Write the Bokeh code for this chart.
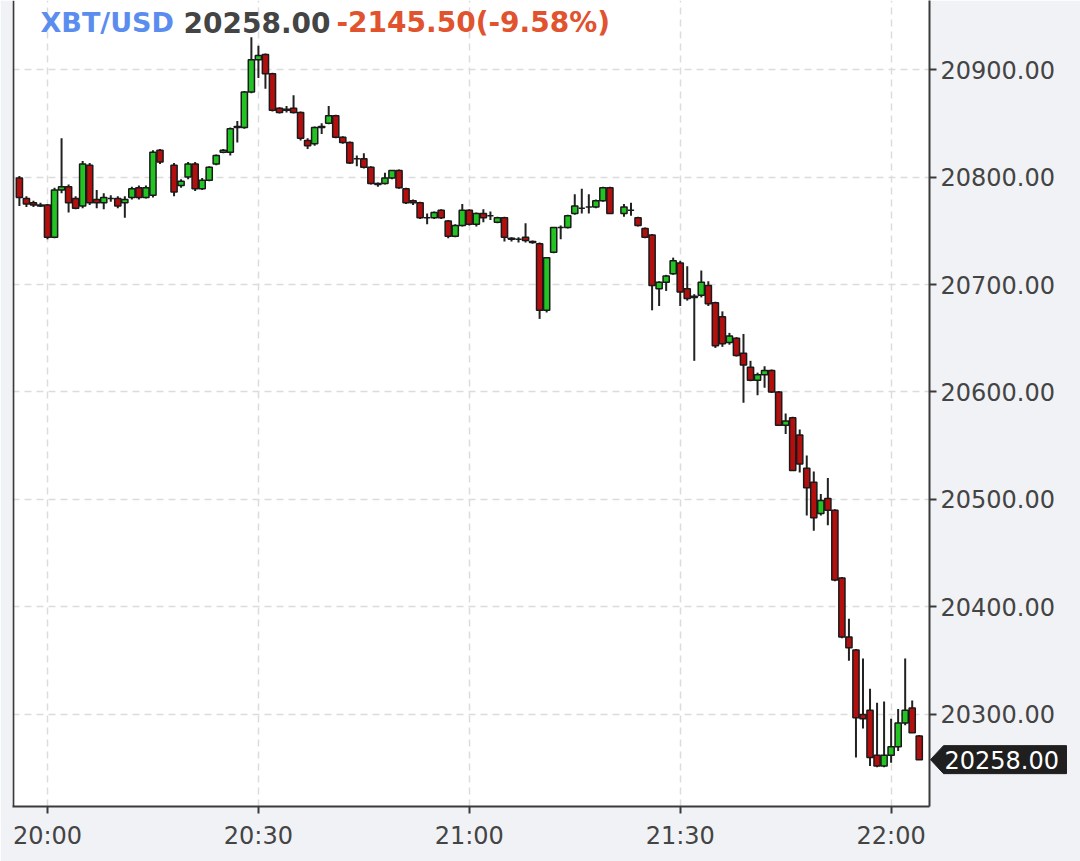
from bokeh.plotting import figure
from bokeh.models import Range1d, FixedTicker, NumeralTickFormatter, Label, Span, ColumnDataSource, GridBox
from bokeh.core.properties import value
from bokeh.embed import file_html
from bokeh.resources import INLINE

symbol = "XBT/USD"
change = -2145.50
change_pct = -9.58

minutes = [-4, -3, -2, -1, 0, 1, 2, 3, 4, 5, 6, 7, 8, 9, 10, 11, 12, 13, 14, 15, 16,
           18, 19, 20, 21, 22, 23, 24, 25, 26, 27, 28, 29, 30,
           31, 32, 33, 34, 35, 36, 37, 38, 39, 40, 41, 42, 43, 44, 45, 46, 47, 48, 49, 50,
           51, 52, 53, 54, 55, 56, 57, 58, 59, 60,
           61, 62, 63, 64, 65, 66, 67, 68, 69, 70, 71, 72, 73, 74, 75, 76, 77, 78, 79, 80,
           82, 83, 84, 85, 86, 87, 88, 89, 90,
           91, 92, 93, 94, 95, 96, 97, 98, 99, 100, 101, 102, 103, 104, 105, 106, 107, 108, 109, 110,
           111, 112, 113, 114, 115, 116, 117, 118, 119, 120, 121, 122, 123, 124]
opens = [20799, 20780, 20776, 20774, 20774, 20744, 20788, 20791, 20780, 20773, 20811, 20779, 20776, 20780, 20780, 20776, 20781, 20790, 20781, 20783, 20825,
         20811, 20792, 20800, 20812, 20789, 20797, 20812, 20823, 20823, 20846, 20846, 20879, 20909,
         20914, 20896, 20864, 20862, 20864, 20860, 20834, 20831, 20846, 20850, 20857, 20837, 20832, 20817, 20817, 20809, 20794, 20794, 20799, 20806,
         20789, 20778, 20776, 20762, 20762, 20769, 20759, 20745, 20755, 20769,
         20756, 20766, 20764, 20758, 20762, 20743, 20742, 20744, 20740, 20738, 20676, 20730, 20753, 20753, 20766, 20771, 20772, 20772, 20778, 20790,
         20766, 20769, 20762, 20752, 20746, 20696, 20702, 20710, 20720,
         20696, 20689, 20690, 20699, 20683, 20670, 20646, 20650, 20636, 20623, 20611, 20616, 20620, 20600, 20569, 20576, 20560, 20529, 20516, 20487,
         20501, 20490, 20427, 20372, 20360, 20300, 20304, 20262, 20252, 20262, 20270, 20292, 20306, 20280]
highs = [20801, 20782, 20778, 20776, 20775, 20790, 20836, 20793, 20782, 20815, 20813, 20788, 20785, 20783, 20782, 20782, 20791, 20792, 20792, 20825, 20826,
         20813, 20798, 20814, 20814, 20799, 20810, 20821, 20826, 20846, 20852, 20880, 20930, 20922,
         20915, 20897, 20865, 20866, 20876, 20861, 20836, 20847, 20850, 20866, 20858, 20838, 20833, 20820, 20822, 20810, 20795, 20804, 20806, 20807,
         20790, 20779, 20777, 20766, 20768, 20770, 20760, 20756, 20775, 20770,
         20767, 20770, 20768, 20763, 20763, 20744, 20744, 20757, 20741, 20739, 20725, 20753, 20755, 20765, 20784, 20789, 20784, 20779, 20791, 20791,
         20775, 20776, 20763, 20753, 20747, 20703, 20709, 20725, 20722,
         20717, 20691, 20713, 20703, 20684, 20675, 20655, 20651, 20654, 20629, 20618, 20624, 20621, 20601, 20580, 20577, 20565, 20541, 20526, 20505,
         20520, 20491, 20428, 20389, 20361, 20352, 20324, 20311, 20312, 20296, 20305, 20352, 20313, 20281]
lows = [20773, 20772, 20772, 20772, 20742, 20743, 20785, 20767, 20770, 20771, 20774, 20771, 20770, 20777, 20771, 20762, 20779, 20779, 20780, 20781, 20812,
        20782, 20790, 20798, 20787, 20788, 20796, 20811, 20822, 20820, 20832, 20845, 20878, 20892,
        20882, 20861, 20859, 20860, 20859, 20834, 20826, 20829, 20840, 20849, 20836, 20831, 20812, 20810, 20808, 20793, 20791, 20793, 20798, 20789,
        20775, 20774, 20761, 20756, 20761, 20761, 20743, 20744, 20754, 20755,
        20754, 20758, 20760, 20757, 20740, 20740, 20739, 20739, 20738, 20668, 20674, 20729, 20742, 20752, 20765, 20766, 20766, 20771, 20777, 20766,
        20763, 20764, 20754, 20743, 20676, 20680, 20694, 20709, 20680,
        20685, 20629, 20688, 20680, 20641, 20642, 20644, 20633, 20590, 20610, 20597, 20604, 20599, 20569, 20561, 20527, 20525, 20485, 20471, 20485,
        20476, 20424, 20371, 20350, 20260, 20287, 20252, 20251, 20251, 20255, 20266, 20290, 20283, 20258]
closes = [20781, 20775, 20774, 20773, 20744, 20788, 20791, 20776, 20771, 20812, 20776, 20776, 20781, 20780, 20773, 20779, 20789, 20781, 20790, 20823, 20814,
          20786, 20796, 20812, 20789, 20797, 20809, 20820, 20825, 20845, 20847, 20879, 20909, 20913,
          20896, 20862, 20860, 20863, 20860, 20836, 20829, 20846, 20847, 20857, 20837, 20832, 20813, 20817, 20809, 20794, 20793, 20799, 20806, 20790,
          20776, 20776, 20762, 20762, 20767, 20762, 20745, 20755, 20769, 20756,
          20766, 20762, 20764, 20762, 20744, 20742, 20742, 20741, 20739, 20676, 20725, 20753, 20753, 20764, 20773, 20771, 20772, 20778, 20790, 20766,
          20772, 20769, 20755, 20744, 20699, 20702, 20708, 20722, 20693,
          20687, 20688, 20702, 20682, 20643, 20645, 20652, 20634, 20625, 20611, 20616, 20620, 20600, 20569, 20573, 20527, 20533, 20511, 20483, 20499,
          20490, 20425, 20372, 20362, 20297, 20296, 20260, 20252, 20262, 20270, 20292, 20304, 20283, 20258]

x_tick_values = [0, 30, 60, 90, 120]
x_tick_labels = ["20:00", "20:30", "21:00", "21:30", "22:00"]
y_tick_values = [20300, 20400, 20500, 20600, 20700, 20800, 20900]

FONT = "DejaVu Sans"
UP = "#22c322"
DOWN = "#b30f0f"
EDGE = "#1a1a1a"

W, H = 1080, 861
FL, FR, FT, FB = 12, 929, 0, 806          # frame box in pixels
X0, X1 = -4.98, 125.46
Y0, Y1 = 20214.4, 20964.2

p = figure(width=W, height=H, output_backend="svg", toolbar_location=None,
           x_range=Range1d(X0, X1), y_range=Range1d(Y0, Y1),
           y_axis_location="right", x_axis_location="below",
           min_border_left=FL, min_border_right=W - FR, min_border_top=FT, min_border_bottom=H - FB)
p.background_fill_color = "white"
p.border_fill_color = "#f1f2f5"
p.outline_line_color = None
p.frame_align = False

# grid
p.xgrid.ticker = FixedTicker(ticks=x_tick_values)
p.ygrid.ticker = FixedTicker(ticks=y_tick_values)
for g in (p.xgrid, p.ygrid):
    g.grid_line_color = "#dcdcdc"
    g.grid_line_dash = "7 5"
    g.grid_line_width = 1.5

# axes
xa = p.xaxis[0]
xa.ticker = FixedTicker(ticks=x_tick_values)
xa.major_label_overrides = {v: s for v, s in zip(x_tick_values, x_tick_labels)}
ya = p.yaxis[0]
ya.ticker = FixedTicker(ticks=y_tick_values)
ya.formatter = NumeralTickFormatter(format="0.00")
for ax in (xa, ya):
    ax.axis_line_color = "#3a3a3a"
    ax.axis_line_width = 2
    ax.major_tick_line_color = "#3a3a3a"
    ax.major_tick_line_width = 2
    ax.major_tick_out = 7
    ax.major_tick_in = 0
    ax.minor_tick_line_color = None
    ax.major_label_text_font = FONT
    ax.major_label_text_font_size = "24px"
    ax.major_label_text_color = "#444444"
xa.major_label_standoff = 8
ya.major_label_standoff = 4

# left frame line
p.add_layout(Span(location=X0 + 0.12, dimension="height",
                  line_color="#3a3a3a", line_width=2))

# candles
colors = [UP if c > o else DOWN for o, c in zip(opens, closes)]
src = ColumnDataSource(dict(
    t=minutes, o=opens, h=highs, l=lows, c=closes,
    top=[max(o, c) for o, c in zip(opens, closes)],
    bot=[min(o, c) for o, c in zip(opens, closes)],
    color=colors))
p.segment(x0="t", y0="h", x1="t", y1="l", source=src, line_color="#222222", line_width=2)
p.vbar(x="t", top="top", bottom="bot", width=0.88, source=src,
       fill_color="color", line_color=EDGE, line_width=1.5)

# title labels
last = closes[-1]
TY = 784
p.add_layout(Label(x=28, y=TY, x_units="screen", y_units="screen", text=symbol,
                   text_font=FONT, text_font_style="bold", text_font_size="27px",
                   text_color="#5b8def", text_baseline="middle"))
p.add_layout(Label(x=171, y=TY, x_units="screen", y_units="screen", text=f"{last:.2f}",
                   text_font=FONT, text_font_style="bold", text_font_size="28px",
                   text_color="#444444", text_baseline="middle"))
p.add_layout(Label(x=324, y=TY, x_units="screen", y_units="screen",
                   text=f"{change:.2f}({change_pct:.2f}%)",
                   text_font=FONT, text_font_style="bold", text_font_size="28px",
                   text_color="#e0532e", text_baseline="middle"))

# transparent overlay figure (full-canvas frame) for the last-price tag on the right axis
k = (Y1 - Y0) / (FB - FT)                  # price units per pixel
tag = figure(width=W, height=H, output_backend="svg", toolbar_location=None,
             x_range=Range1d(0, W), y_range=Range1d(Y0 - (H - FB) * k, Y1 + FT * k),
             x_axis_type=None, y_axis_type=None,
             min_border_left=0, min_border_right=0, min_border_top=0, min_border_bottom=0)
tag.frame_align = False
tag.grid.visible = False
tag.background_fill_color = None
tag.border_fill_color = None
tag.outline_line_color = None
half = 14 * k
tag.patch(x=[930, 943, 1066, 1066, 943],
          y=[last, last + half, last + half, last - half, last - half],
          fill_color="#1f1f1f", line_color="#1f1f1f")
tag.text(x=[944], y=[last], text=[f"{last:.2f}"], text_color="white",
         text_font=value(FONT), text_font_size="24px", text_baseline="middle")

layout = GridBox(children=[(p, 0, 0), (tag, 0, 0)])
open("out.html", "w").write(file_html(layout, INLINE))
